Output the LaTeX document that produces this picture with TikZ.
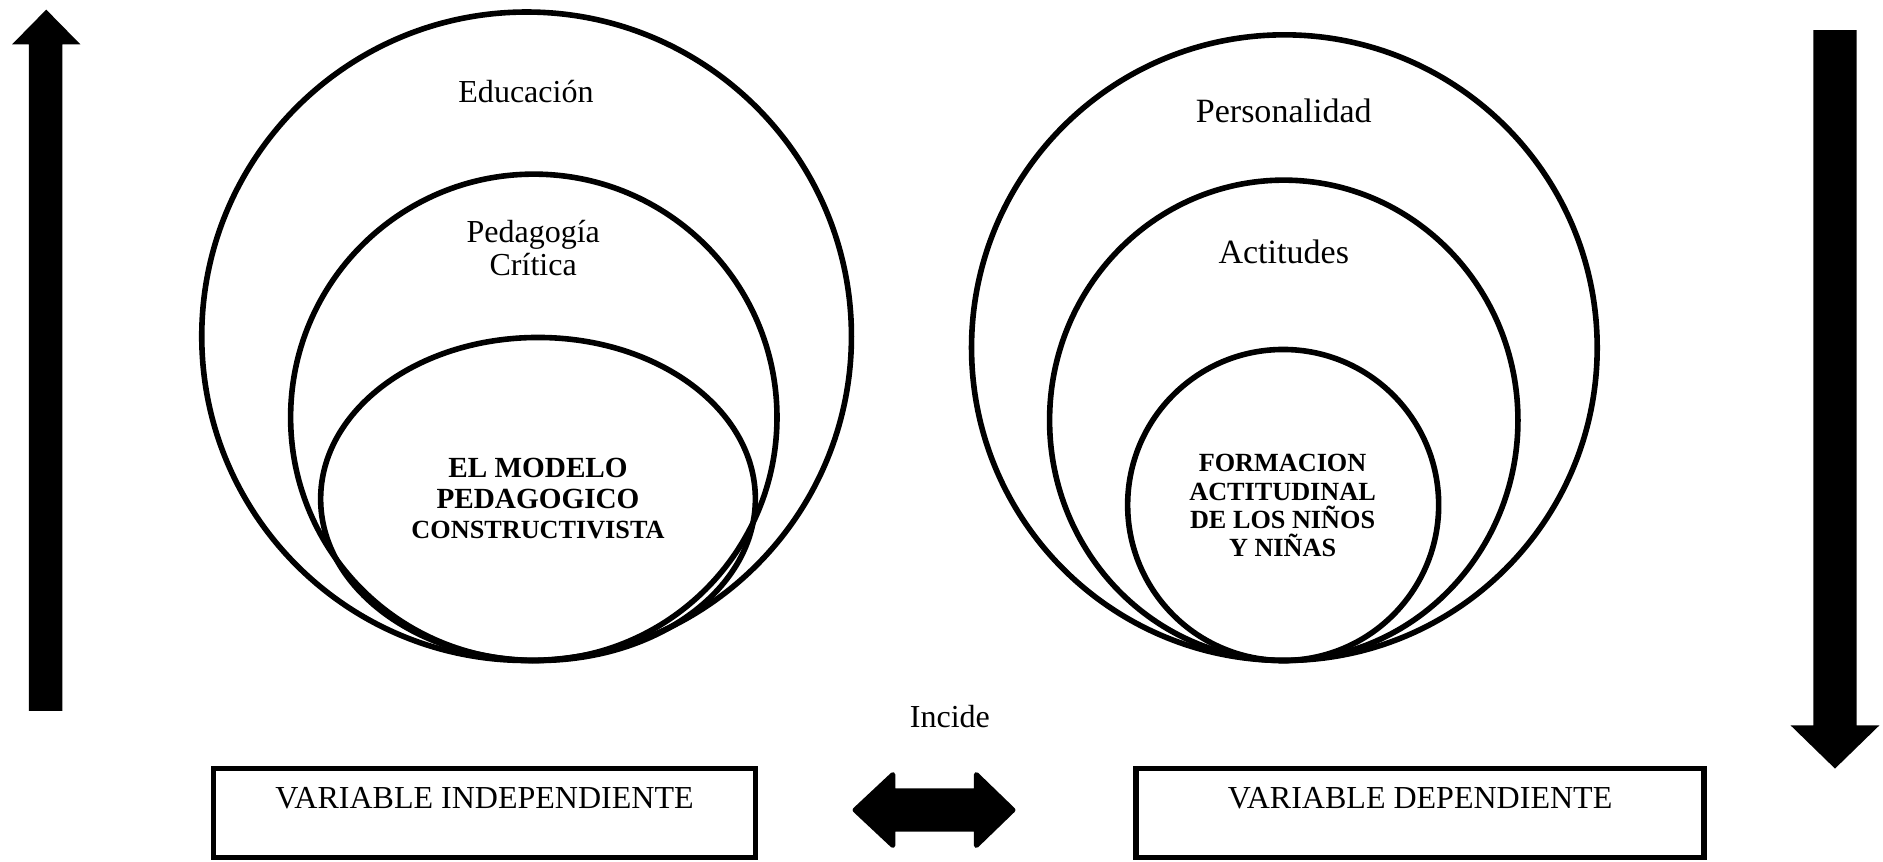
\documentclass[tikz,border=0pt]{standalone}
\usepackage{fontspec}
\setmainfont{Liberation Serif}
\begin{document}
\begin{tikzpicture}[x=0.6pt,y=-0.6pt,
  ring/.style={line width=2.8pt},
  boxline/.style={line width=2.6pt},
  lbl/.style={font=\fontsize{16}{18}\selectfont, inner sep=0pt, anchor=base},
  lblr/.style={font=\fontsize{17}{19}\selectfont, inner sep=0pt, anchor=base},
  bl/.style={font=\fontsize{14.6}{16}\selectfont\bfseries, inner sep=0pt, anchor=base},
  bs/.style={font=\fontsize{13.1}{15}\selectfont\bfseries, inner sep=0pt, anchor=base},
  bigarrow/.style={fill=black}]
\useasboundingbox (0,0) rectangle (1568,717);
% left circles
\draw[ring] (438.5,280) ellipse[x radius=270.5, y radius=270];
\draw[ring] (444.5,347.5) ellipse[x radius=202.5, y radius=202.5];
\draw[ring] (448,415.5) ellipse[x radius=181, y radius=134.5];
\node[lbl] (edu) at (438,85) {Educación};
\node[lbl] (ped1) at (444,202) {Pedagogía};
\node[lbl] (ped2) at (444,229) {Crítica};
\node[bl] (m1) at (448,398) {EL MODELO};
\node[bl] (m2) at (448,423.5) {PEDAGOGICO};
\node[bs] (m3) at (448,448) {CONSTRUCTIVISTA};
% right circles
\draw[ring] (1069.5,289.5) ellipse[x radius=260.5, y radius=260.5];
\draw[ring] (1069,350) ellipse[x radius=195, y radius=200];
\draw[ring] (1068.5,420.5) ellipse[x radius=129.5, y radius=129.5];
\node[lblr] (per) at (1069,102) {Personalidad};
\node[lblr] (act) at (1069,219) {Actitudes};
\node[bs] (f1) at (1068,393) {FORMACION};
\node[bs] (f2) at (1068,416.5) {ACTITUDINAL};
\node[bs] (f3) at (1068,440) {DE LOS NIÑOS};
\node[bs] (f4) at (1068,463) {Y NIÑAS};
% vertical arrows
\fill[bigarrow] (24,592) -- (24,37) -- (10,37) -- (38.5,8) -- (67,37) -- (52,37) -- (52,592) -- cycle;
\fill[bigarrow] (1510,25) -- (1546,25) -- (1546,604) -- (1565,604) -- (1528,640) -- (1491,604) -- (1510,604) -- cycle;
% bottom
\node[lbl] (inc) at (791,606) {Incide};
\filldraw[line join=round, line width=2.5pt] (712,674.5) -- (743.5,645) -- (743.5,658.5) -- (813,658.5) -- (813,645) -- (843.5,674.5) -- (813,704) -- (813,690.5) -- (743.5,690.5) -- (743.5,704) -- cycle;
\draw[boxline] (178,640) rectangle (629,714);
\node[lbl] (vi) at (403.5,673) {VARIABLE INDEPENDIENTE};
\draw[boxline] (946,640) rectangle (1419,714);
\node[lbl] (vd) at (1182.5,673) {VARIABLE DEPENDIENTE};
\end{tikzpicture}
\end{document}
